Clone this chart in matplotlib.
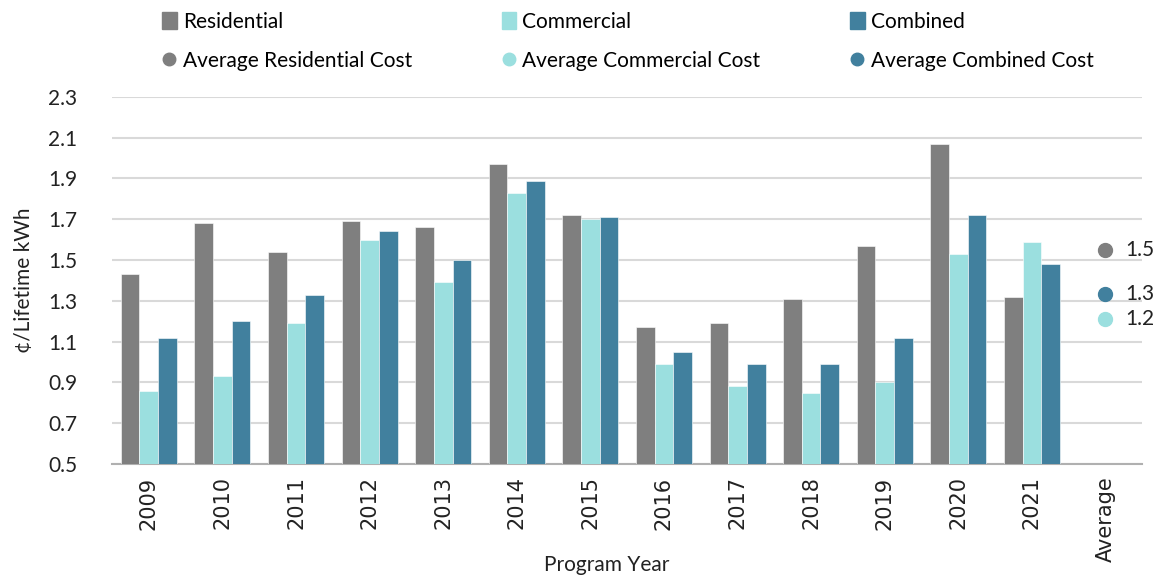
import matplotlib.pyplot as plt
import numpy as np
from matplotlib.lines import Line2D
from matplotlib.patches import Patch

plt.rcParams["font.family"] = ["Lato", "DejaVu Sans"]

# Data
years = ["2009", "2010", "2011", "2012", "2013", "2014", "2015",
         "2016", "2017", "2018", "2019", "2020", "2021", "Average"]
residential = [1.43, 1.68, 1.54, 1.69, 1.66, 1.97, 1.72, 1.17, 1.19, 1.31, 1.57, 2.07, 1.32]
commercial = [0.86, 0.93, 1.19, 1.60, 1.39, 1.83, 1.70, 0.99, 0.88, 0.85, 0.90, 1.53, 1.59]
combined = [1.12, 1.20, 1.33, 1.64, 1.50, 1.89, 1.71, 1.05, 0.99, 0.99, 1.12, 1.72, 1.48]
avg_res, avg_com, avg_comb = 1.55, 1.21, 1.335
avg_labels = {"res": "1.5", "com": "1.2", "comb": "1.3"}

GREY = "#7f7f7f"
CYAN = "#9bdfdf"
TEAL = "#41809e"

fig = plt.figure(figsize=(11.55, 5.77), dpi=100)
ax = fig.add_axes([0.097, 0.196, 0.892, 0.636])

n = len(residential)
x = np.arange(n)
w = 0.254
ax.bar(x - w, residential, w, color=GREY, edgecolor="white", linewidth=0.4, zorder=3)
ax.bar(x, commercial, w, color=CYAN, edgecolor="white", linewidth=0.4, zorder=3)
ax.bar(x + w, combined, w, color=TEAL, edgecolor="white", linewidth=0.4, zorder=3)

xa = len(years) - 1
for val, col, key in [(avg_res, GREY, "res"), (avg_comb, TEAL, "comb"), (avg_com, CYAN, "com")]:
    ax.plot([xa], [val], "o", ms=10, color=col, zorder=4, clip_on=False)
    ax.annotate(avg_labels[key], (xa, val), xytext=(14, 0), textcoords="offset points",
                va="center", ha="left", fontsize=15, color="#222222", annotation_clip=False)

ax.set_ylim(0.5, 2.3)
ax.set_xlim(-0.5, len(years) - 0.5)
ax.set_yticks(np.arange(0.5, 2.31, 0.2))
ax.set_yticklabels([f"{v:.1f}" for v in np.arange(0.5, 2.31, 0.2)], fontsize=15)
ax.set_xticks(np.arange(len(years)))
ax.set_xticklabels(years, rotation=90, fontsize=15, family=["DejaVu Sans"])
ax.tick_params(axis="both", length=0, colors="#222222")
ax.tick_params(axis="x", pad=9)
ax.tick_params(axis="y", pad=25)
ax.grid(axis="y", color="#d9d9d9", linewidth=1.5, zorder=0)
for s in ["top", "right", "left"]:
    ax.spines[s].set_visible(False)
ax.spines["bottom"].set_color("#b0b0b0")
ax.spines["bottom"].set_linewidth(1.5)

ax.set_ylabel("¢/Lifetime kWh", fontsize=15, color="#222222", labelpad=10)
ax.set_xlabel("Program Year", fontsize=15, color="#222222", va="center")
ax.xaxis.set_label_coords(0.48, -0.275)

handles = [
    Patch(color=GREY, label="Residential"),
    Line2D([], [], marker="o", ls="", color=GREY, ms=9, label="Average Residential Cost"),
    Patch(color=CYAN, label="Commercial"),
    Line2D([], [], marker="o", ls="", color=CYAN, ms=9, label="Average Commercial Cost"),
    Patch(color=TEAL, label="Combined"),
    Line2D([], [], marker="o", ls="", color=TEAL, ms=9, label="Average Combined Cost"),
]
fig.legend(handles=handles, ncol=3, loc="upper left", bbox_to_anchor=(0.124, 1.012),
           frameon=False, fontsize=15, handlelength=0.7, handleheight=0.9,
           handletextpad=0.3, columnspacing=4.3, labelspacing=0.9)

fig.savefig("out.png", dpi=100)
